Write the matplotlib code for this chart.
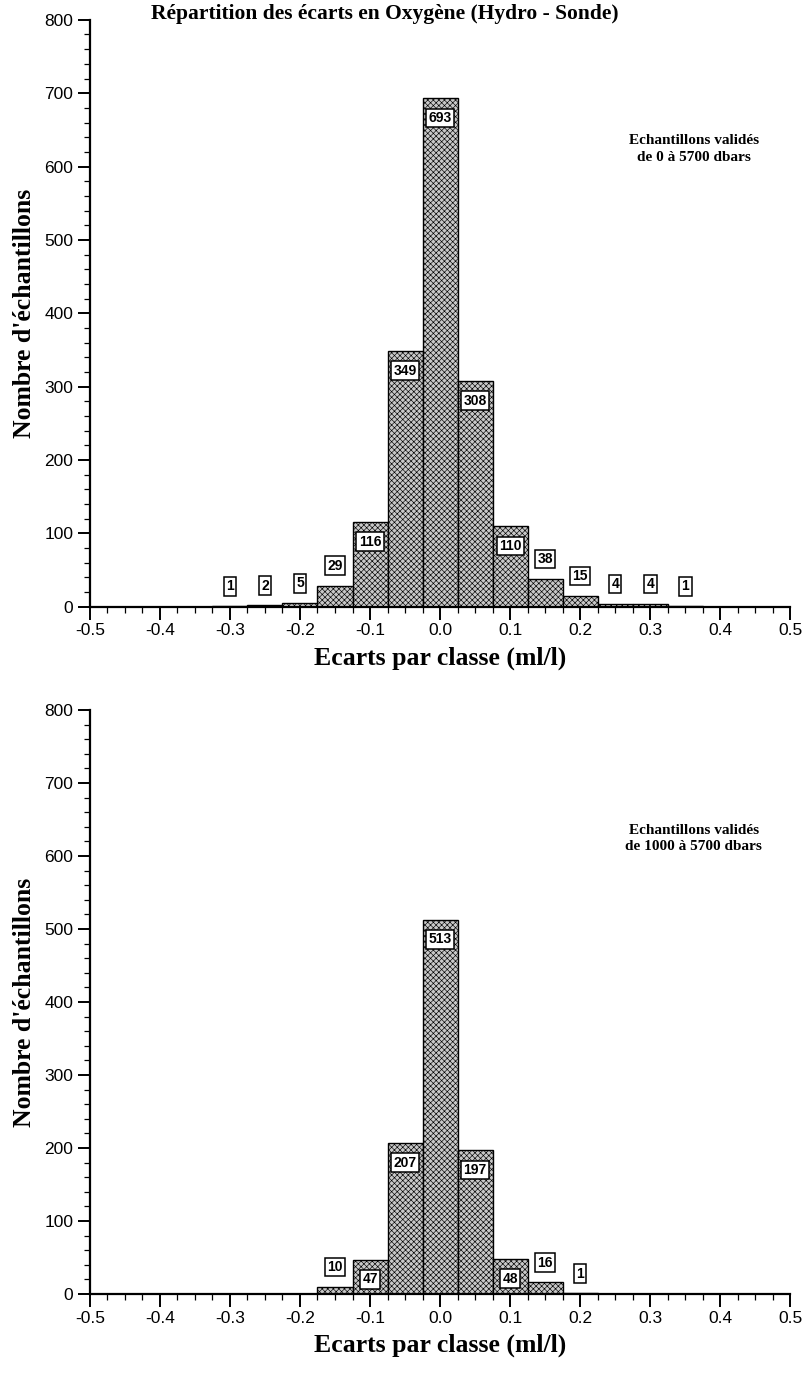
import numpy as np
import matplotlib
matplotlib.use("Agg")
import matplotlib.pyplot as plt
from matplotlib.ticker import MultipleLocator, FormatStrFormatter

# --- Données : écarts Hydro - Sonde, classes de 0.05 ml/l ---
classes_0 = [-0.30, -0.25, -0.20, -0.15, -0.10, -0.05, 0.00, 0.05, 0.10, 0.15, 0.20, 0.25, 0.30, 0.35]
effectifs_0 = [1, 2, 5, 29, 116, 349, 693, 308, 110, 38, 15, 4, 4, 1]

classes_1000 = [-0.15, -0.10, -0.05, 0.00, 0.05, 0.10, 0.15, 0.20]
effectifs_1000 = [10, 47, 207, 513, 197, 48, 16, 1]

titre = "Répartition des écarts en Oxygène (Hydro - Sonde)"
legende_0 = "Echantillons validés\nde 0 à 5700 dbars"
legende_1000 = "Echantillons validés\nde 1000 à 5700 dbars"

largeur = 0.05

plt.rcParams['hatch.linewidth'] = 0.45
serif = ['Liberation Serif', 'DejaVu Serif']
sans = ['Liberation Sans', 'DejaVu Sans']

fig = plt.figure(figsize=(8.09, 13.76), dpi=100)
ax_haut = fig.add_axes([0.111, 0.559, 0.866, 0.4266])
ax_bas = fig.add_axes([0.111, 0.0596, 0.866, 0.4244])


def histogramme(ax, centres, valeurs, texte):
    ax.bar(centres, valeurs, width=largeur, color='#c8c8c8', edgecolor='black',
           linewidth=1.0, hatch='xxxxxx', zorder=2)

    # étiquettes encadrées : dans la barre si elle est haute, au-dessus sinon
    for c, v in zip(centres, valeurs):
        y = v - 27 if v >= 45 else v + 27
        ax.text(c, y, str(v), ha='center', va='center', fontsize=10,
                fontweight='bold', family=sans, zorder=4,
                bbox=dict(boxstyle='square,pad=0.17', fc='white', ec='black', lw=1.1))

    ax.text(0.362, 624, texte, ha='center', va='center',
            fontsize=11, fontweight='bold', family=serif, linespacing=1.35)

    ax.set_xlim(-0.5, 0.5)
    ax.set_ylim(0, 800)
    ax.spines['top'].set_visible(False)
    ax.spines['right'].set_visible(False)
    ax.spines['left'].set_linewidth(1.6)
    ax.spines['bottom'].set_linewidth(1.6)

    ax.xaxis.set_major_locator(MultipleLocator(0.1))
    ax.xaxis.set_minor_locator(MultipleLocator(0.025))
    ax.xaxis.set_major_formatter(FormatStrFormatter('%.1f'))
    ax.yaxis.set_major_locator(MultipleLocator(100))
    ax.yaxis.set_minor_locator(MultipleLocator(20))
    ax.tick_params(which='major', length=9, width=1.4, direction='out', labelsize=12.5, pad=3)
    ax.tick_params(which='minor', length=4, width=0.9, direction='out')
    for lab in ax.get_xticklabels() + ax.get_yticklabels():
        lab.set_family(sans)

    ax.set_xlabel("Ecarts par classe (ml/l)", fontsize=18.5, fontweight='bold',
                  family=serif, labelpad=6)
    ax.set_ylabel("Nombre d'échantillons", fontsize=18.5, fontweight='bold',
                  family=serif, labelpad=6)


histogramme(ax_haut, classes_0, effectifs_0, legende_0)
histogramme(ax_bas, classes_1000, effectifs_1000, legende_1000)

fig.text(0.476, 1 - 14 / 1376, titre, ha='center', va='center', fontsize=15.5,
         fontweight='bold', family=serif)

fig.savefig("out.png", dpi=100)
